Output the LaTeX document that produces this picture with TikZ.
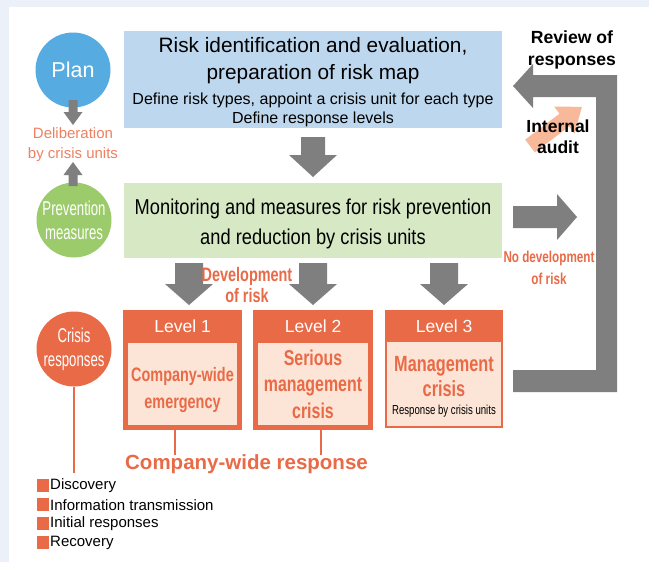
\documentclass[tikz,border=0pt]{standalone}
\usepackage{fontspec}
\setmainfont{Liberation Sans}
\newfontfamily\narrowfont[FakeStretch=0.85]{Liberation Sans}
\newfontfamily\condfont[FakeStretch=0.74]{Liberation Sans}
\newfontfamily\rondfont[FakeStretch=0.66]{Liberation Sans}
\usetikzlibrary{calc}

\definecolor{fond}{HTML}{EBF0F9}
\definecolor{bleu}{HTML}{56ACE0}
\definecolor{bleuclair}{HTML}{BDD7EE}
\definecolor{vert}{HTML}{9CCB6B}
\definecolor{vertclair}{HTML}{D6E8C4}
\definecolor{orange}{HTML}{E96A47}
\definecolor{orangeclair}{HTML}{EF8062}
\definecolor{peche}{HTML}{FCE4D6}
\definecolor{audit}{HTML}{F7B99A}
\definecolor{gris}{HTML}{7F7F7F}

\tikzset{
  rond/.style={circle,minimum size=75pt,inner sep=0pt,text=white,align=center},
  boite/.style={rectangle,inner sep=0pt,anchor=north west},
  lien/.style={draw=orange,line width=1.2pt},
  texte/.style={inner sep=0pt,align=center},
}

% fleche verticale : x, depart, debut tete, pointe, demi-corps, demi-tete
\newcommand{\vfleche}[6]{%
  \fill[gris] (#1-#5,#2) -- (#1+#5,#2) -- (#1+#5,#3) -- (#1+#6,#3) -- (#1,#4)
    -- (#1-#6,#3) -- (#1-#5,#3) -- cycle;}
% fleche horizontale : y, depart, debut tete, pointe, demi-corps, demi-tete
\newcommand{\hfleche}[6]{%
  \fill[gris] (#2,#1-#5) -- (#2,#1+#5) -- (#3,#1+#5) -- (#3,#1+#6) -- (#4,#1)
    -- (#3,#1-#6) -- (#3,#1-#5) -- cycle;}

\begin{document}
\begin{tikzpicture}[x=1pt,y=-1pt]
% Fond
\fill[fond] (0,0) rectangle (649,562);
\fill[white] (9,7) rectangle (649,562);
\useasboundingbox (0,0) rectangle (649,562);

% Cercles
\node[rond,fill=bleu,font=\fontsize{21.5}{21.5}\selectfont] (plan) at (73,70) {Plan};
\node[rond,fill=vert,font=\rondfont\fontsize{20}{24}\selectfont] (prev) at (74,220) {Prevention\\measures};
\node[rond,fill=orange,font=\rondfont\fontsize{20}{24}\selectfont] (crise) at (74,349) {Crisis\\responses};
\node[texte,text=orangeclair,font=\fontsize{15}{20}\selectfont] (delib) at (73,145) {Deliberation\\by crisis units};
\vfleche{73}{100}{112}{125}{4.5}{9.5}
\vfleche{73}{186}{175}{162}{4.5}{9.5}

% Boites
\node[boite,fill=bleuclair,minimum width=378pt,minimum height=97pt] (carte) at (124,31) {};
\node[texte,font=\fontsize{20.8}{27}\selectfont] (carte1) at (313,60.5) {Risk identification and evaluation,\\preparation of risk map};
\node[texte,font=\fontsize{16}{19}\selectfont] (carte2) at (313,109.5) {Define risk types, appoint a crisis unit for each type\\Define response levels};
\vfleche{313}{137}{155}{177}{12}{24}
\node[boite,fill=vertclair,minimum width=378pt,minimum height=75pt] (suivi) at (124,183) {};
\node[texte,font=\narrowfont\fontsize{21.5}{30}\selectfont] (suivi1) at (313,223.5) {Monitoring and measures for risk prevention\\and reduction by crisis units};

% Fleches vers les niveaux
\foreach \x in {189,313,444}{\vfleche{\x}{263}{284}{305}{14}{24}}
\node[texte,text=orange,font=\condfont\bfseries\fontsize{19.5}{21}\selectfont] (devel) at (247,285.5) {Development\\of risk};

% Niveaux
\node[boite,fill=orange,minimum width=119pt,minimum height=120pt] (n1) at (123,310) {};
\node[boite,fill=peche,minimum width=109pt,minimum height=82pt] (n1in) at (128,343) {};
\node[boite,fill=orange,minimum width=120pt,minimum height=120pt] (n2) at (253,310) {};
\node[boite,fill=peche,minimum width=110pt,minimum height=82pt] (n2in) at (258,343) {};
\node[boite,fill=orange,minimum width=118pt,minimum height=118pt] (n3) at (385,310) {};
\node[boite,fill=peche,minimum width=114pt,minimum height=84pt] (n3in) at (387,342) {};
\foreach \n in {1,2,3}{
  \node[texte,text=white,font=\fontsize{17.5}{17.5}\selectfont] at ($(n\n.north)+(0,16.5)$) {Level \n};}
\node[texte,text=orange,font=\condfont\bfseries\fontsize{19.5}{27}\selectfont] (t1) at (182.5,390) {Company-wide\\emergency};
\node[texte,text=orange,font=\condfont\bfseries\fontsize{21.5}{26.5}\selectfont] (t2) at (313,384) {Serious\\management\\crisis};
\node[texte,text=orange,font=\condfont\bfseries\fontsize{22}{25}\selectfont] (t3) at (444,377) {Management\\crisis};
\node[texte,font=\condfont\fontsize{13}{13}\selectfont] (t3b) at (444,411) {Response by crisis units};

% Reponse
\node[texte,text=orange,font=\bfseries\fontsize{20.5}{20.5}\selectfont] (rep) at (246.5,464) {Company-wide response};
\coordinate (l1) at (175,455);
\coordinate (l2) at (321,455);
\draw[lien] (n1.south -| l1) -- (l1);
\draw[lien] (n2.south -| l2) -- (l2);
\coordinate (bas) at (74,473);
\draw[lien] (crise.south) -- (bas);
\foreach \t [count=\i] in {Discovery,Information transmission,Initial responses,Recovery}{
  \fill[orange] (37,479+19*\i-19) rectangle ++(12,13);
  \node[texte,anchor=west,font=\fontsize{15}{15}\selectfont] at (50,486+19*\i-19) {\t};}

% Retour
\fill[gris] (513,370) -- (596,370) -- (596,97) -- (533,97) -- (533,108) -- (513,86)
  -- (533,64) -- (533,75) -- (617,75) -- (617,392) -- (513,392) -- cycle;
\hfleche{217}{513}{557}{577}{11}{23}
\node[texte,text=orange,font=\condfont\bfseries\fontsize{15.8}{22}\selectfont] (nodev) at (549,268) {No development\\of risk};
\begin{scope}[shift={(530,146)},rotate=37]
  \fill[audit] (0,-8) -- (43,-8) -- (43,-17) -- (65,0) -- (43,17) -- (43,8) -- (0,8) -- cycle;
\end{scope}
\node[texte,font=\bfseries\fontsize{17.6}{22}\selectfont] (revue) at (572,50) {Review of\\responses};
\node[texte,font=\bfseries\fontsize{17.5}{21}\selectfont] (audit) at (558,136.5) {Internal\\audit};
\end{tikzpicture}
\end{document}
